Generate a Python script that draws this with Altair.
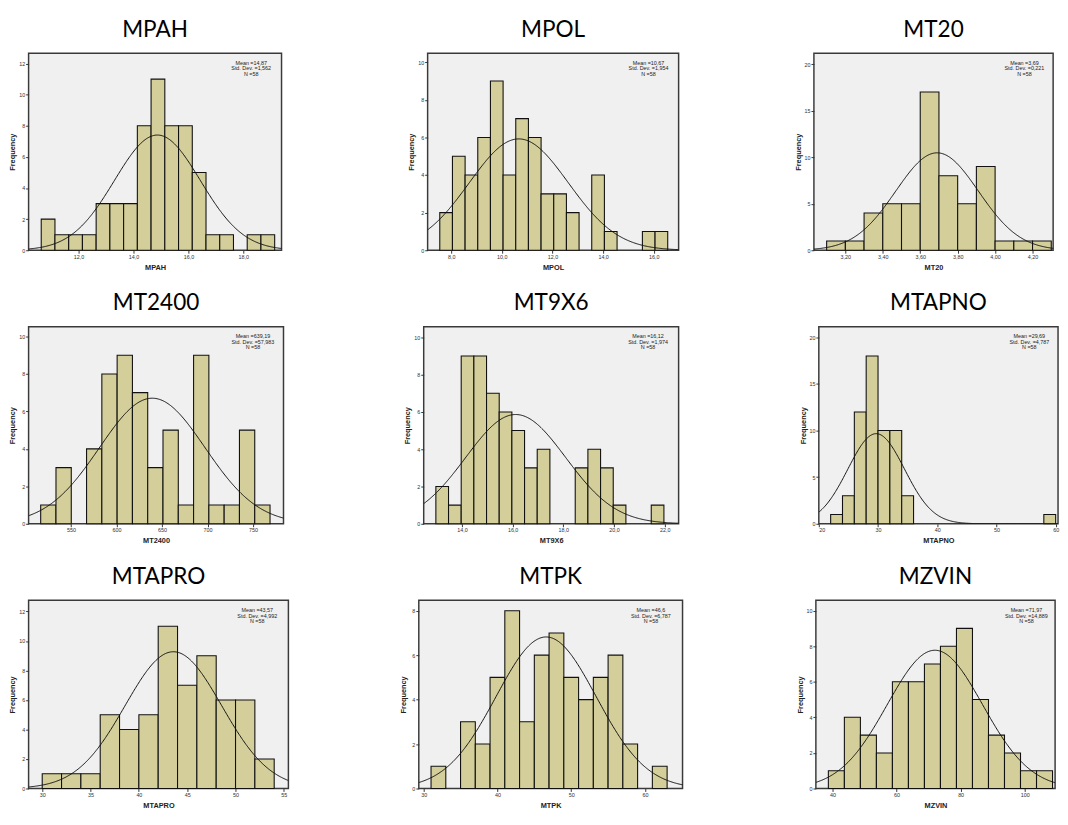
import altair as alt
import pandas as pd

# ---- data ----
NAMES = ["MPAH", "MPOL", "MT20", "MT2400", "MT9X6", "MTAPNO", "MTAPRO", "MTPK", "MZVIN"]
MEANS = [14.87, 10.67, 3.69, 639.19, 16.12, 29.69, 43.57, 46.6, 71.97]
SDS = [1.562, 1.954, 0.221, 57.983, 1.974, 4.787, 4.992, 6.787, 14.889]
MEAN_LABELS = ["14,87", "10,67", "3,69", "639,19", "16,12", "29,69", "43,57", "46,6", "71,97"]
SD_LABELS = ["1,562", "1,954", "0,221", "57,983", "1,974", "4,787", "4,992", "6,787", "14,889"]
N_OBS = 58

BIN_STARTS = [10.64, 7.55, 3.10, 516.6, 12.97, 22.0, 30.0, 31.0, 38.7]
BIN_WIDTHS = [0.5, 0.5, 0.1, 16.8, 0.5, 2.0, 2.0, 2.0, 5.0]

COUNTS_MPAH = [2, 1, 1, 1, 3, 3, 3, 8, 11, 8, 8, 5, 1, 1, 0, 1, 1]
COUNTS_MPOL = [2, 5, 4, 6, 9, 4, 7, 6, 3, 3, 2, 0, 4, 1, 0, 0, 1, 1]
COUNTS_MT20 = [1, 1, 4, 5, 5, 17, 8, 5, 9, 1, 1, 1]
COUNTS_MT2400 = [1, 3, 0, 4, 8, 9, 7, 3, 5, 1, 9, 1, 1, 5, 1]
COUNTS_MT9X6 = [2, 1, 9, 9, 7, 6, 5, 3, 4, 0, 0, 3, 4, 3, 1, 0, 0, 1]
COUNTS_MTAPNO = [1, 3, 12, 18, 10, 10, 3, 0, 0, 0, 0, 0, 0, 0, 0, 0, 0, 0, 1]
COUNTS_MTAPRO = [1, 1, 1, 5, 4, 5, 11, 7, 9, 6, 6, 2]
COUNTS_MTPK = [1, 0, 3, 2, 5, 8, 3, 6, 7, 5, 4, 5, 6, 2, 0, 1]
COUNTS_MZVIN = [1, 4, 3, 2, 6, 6, 7, 8, 9, 5, 3, 2, 1, 1]
COUNTS = [COUNTS_MPAH, COUNTS_MPOL, COUNTS_MT20, COUNTS_MT2400, COUNTS_MT9X6,
          COUNTS_MTAPNO, COUNTS_MTAPRO, COUNTS_MTPK, COUNTS_MZVIN]

X_TICKS = [
    [12.0, 14.0, 16.0, 18.0],
    [8.0, 10.0, 12.0, 14.0, 16.0],
    [3.2, 3.4, 3.6, 3.8, 4.0, 4.2],
    [550, 600, 650, 700, 750],
    [14.0, 16.0, 18.0, 20.0, 22.0],
    [20, 30, 40, 50, 60],
    [30, 35, 40, 45, 50, 55],
    [30, 40, 50, 60],
    [40, 60, 80, 100],
]
X_FORMATS = [".1f", ".1f", ".2f", "d", ".1f", "d", "d", "d", "d"]
Y_TICKS = [
    [0, 2, 4, 6, 8, 10, 12],
    [0, 2, 4, 6, 8, 10],
    [0, 5, 10, 15, 20],
    [0, 2, 4, 6, 8, 10],
    [0, 2, 4, 6, 8, 10],
    [0, 5, 10, 15, 20],
    [0, 2, 4, 6, 8, 10, 12],
    [0, 2, 4, 6, 8],
    [0, 2, 4, 6, 8, 10],
]

# ---- scale extents and layout ----
X_DOMAINS = [
    [10.18, 19.39], [7.07, 16.98], [3.032, 4.31],
    [503.3, 783.4], [12.49, 22.55], [20.0, 60.4],
    [28.59, 55.47], [29.34, 65.09], [34.8, 109.5],
]
Y_MAX = [12.67, 10.48, 21.18, 10.52, 10.57, 21.14, 12.76, 8.47, 10.58]
WIDTHS = [258, 256, 244, 260, 260, 244, 265, 269, 244]
HEIGHTS = [201, 201, 201, 201, 201, 201, 192, 192, 192]

BAR_FILL = "#D4CF9A"
FONT = "Liberation Sans"


def panel(i):
    start, bw = BIN_STARTS[i], BIN_WIDTHS[i]
    counts = COUNTS[i]
    df = pd.DataFrame({
        "lo": [start + k * bw for k in range(len(counts))],
        "count": counts,
    })
    df["hi"] = df["lo"] + bw
    df = df[df["count"] > 0]

    w, h = WIDTHS[i], HEIGHTS[i]
    xs = alt.Scale(domain=X_DOMAINS[i], nice=False, zero=False)
    ys = alt.Scale(domain=[0, Y_MAX[i]], nice=False)
    xaxis = alt.Axis(values=X_TICKS[i], format=X_FORMATS[i],
                     labelExpr="replace(datum.label, '.', ',')",
                     title=NAMES[i], labelPadding=1, titlePadding=4,
                     grid=False, domain=False, labelOverlap=False)
    yaxis = alt.Axis(values=Y_TICKS[i], format="d", title="Frequency",
                     labelPadding=1, titlePadding=2, minExtent=10, maxExtent=10,
                     grid=False, domain=False, labelOverlap=False)

    bars = alt.Chart(df).mark_rect(fill=BAR_FILL, stroke="#111", strokeWidth=1.1).encode(
        x=alt.X("lo:Q", scale=xs, axis=xaxis),
        x2="hi:Q",
        y=alt.Y("count:Q", scale=ys, axis=yaxis),
        y2=alt.datum(0),
    )

    lo, hi = X_DOMAINS[i]
    step = (hi - lo) / 300.0
    curve = alt.Chart(alt.sequence(lo, hi + step, step, as_="v")).transform_calculate(
        f=f"{N_OBS * bw} / ({SDS[i]} * sqrt(2 * PI)) * exp(-0.5 * pow((datum.v - {MEANS[i]}) / {SDS[i]}, 2))"
    ).mark_line(color="#111", strokeWidth=1, clip=True).encode(
        x=alt.X("v:Q", scale=xs, axis=xaxis),
        y=alt.Y("f:Q", scale=ys, axis=yaxis),
    )

    note = alt.Chart(pd.DataFrame({
        "t": [f"Mean ={MEAN_LABELS[i]}\nStd. Dev. ={SD_LABELS[i]}\nN ={N_OBS}"]
    })).mark_text(font=FONT, fontSize=5.5, lineBreak="\n", lineHeight=5.6,
                  align="center", baseline="top", color="#222").encode(
        x=alt.value(w * 0.88), y=alt.value(8), text="t:N"
    )

    return alt.layer(bars, curve, note).properties(
        width=w, height=h,
        title=alt.TitleParams(NAMES[i], font="Lato", fontSize=23, fontWeight="normal",
                              color="#000", anchor="middle", offset=12),
    )


def row(a, b, c, s1, s2):
    return alt.hconcat(alt.hconcat(panel(a), panel(b), spacing=s1), panel(c), spacing=s2)


chart = alt.vconcat(
    row(0, 1, 2, 127, 116),
    row(3, 4, 5, 121, 121),
    row(6, 7, 8, 111, 114),
    spacing=20,
).properties(
    padding={"left": 0, "top": 2, "right": 0, "bottom": 0},
    background="white",
).configure_view(
    fill="#F0F0F0", stroke="#3a3a3a", strokeWidth=1.5
).configure_axis(
    labelFont=FONT, labelFontSize=5.5, labelColor="#333",
    tickColor="#333", tickSize=3, domain=False, grid=False,
    titleFont=FONT, titleFontSize=7.5, titleFontWeight="bold", titleColor="#222",
)

chart.save("out.html", embed_options={"renderer": "svg", "actions": False})
